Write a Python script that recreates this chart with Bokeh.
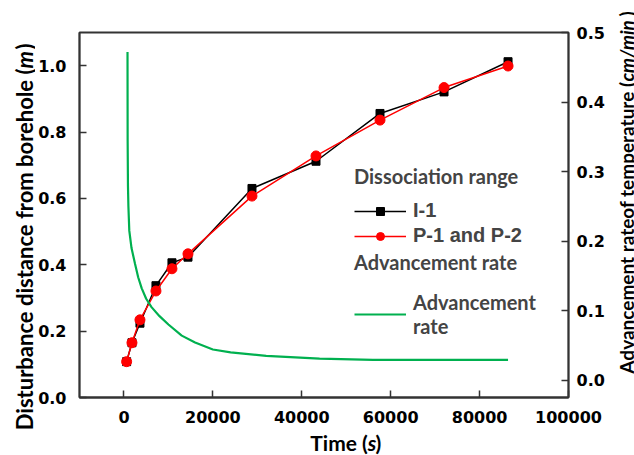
from math import pi

from bokeh.core.properties import value
from bokeh.embed import file_html
from bokeh.layouts import column, row
from bokeh.models import (FixedTicker, Legend, LegendItem, LinearAxis,
                          PrintfTickFormatter, Range1d)
from bokeh.plotting import figure
from bokeh.resources import INLINE

# Dissociation range measured at each sampling time (s -> m)
time_s = [600, 1800, 3600, 7200, 10800, 14400, 28800, 43200, 57600, 72000, 86400]
dist_i1 = [0.108, 0.165, 0.224, 0.337, 0.406, 0.423, 0.630, 0.712, 0.856, 0.921, 1.012]
dist_p12 = [0.108, 0.165, 0.234, 0.321, 0.388, 0.433, 0.607, 0.728, 0.836, 0.934, 0.999]

# Advancement rate of the temperature front (cm/min)
rate_time = [800, 830, 900, 1000, 1200, 1700, 2500, 3200, 4000, 5000, 6200, 8000,
             10000, 13000, 16000, 20000, 24000, 32000, 44000, 56000, 70000, 86400]
rate_value = [0.472, 0.345, 0.280, 0.250, 0.215, 0.190, 0.167, 0.148, 0.132, 0.117,
              0.105, 0.092, 0.080, 0.064, 0.054, 0.044, 0.040, 0.035, 0.031, 0.029,
              0.029, 0.029]

x_ticks = [0, 20000, 40000, 60000, 80000, 100000]
left_ticks = [0.0, 0.2, 0.4, 0.6, 0.8, 1.0]
right_ticks = [0.0, 0.1, 0.2, 0.3, 0.4, 0.5]

# Axis titles: (upright part, italic unit, closing bracket)
x_title = ("Time (", "s", ")")
left_title = ("Disturbance distance from borehole (", "m", ")")
right_title = ("Advancement rateof temperature (", "cm/min", ")")

AXIS_COLOR = "#333333"
TICK_FONT = "DejaVu Sans"
TITLE_FONT = "Lato"

# Page pieces: left title strip | (chart over bottom title strip) | right title strip
LEFT_W, RIGHT_W, BOTTOM_H = 35, 24, 26
TOTAL_W, TOTAL_H = 634, 455
MAIN_W = TOTAL_W - LEFT_W - RIGHT_W
MAIN_H = TOTAL_H - BOTTOM_H

p = figure(width=MAIN_W, height=MAIN_H, output_backend="svg", toolbar_location=None,
           x_range=Range1d(-10000, 100000), y_range=Range1d(0, 1.1),
           min_border_left=42, min_border_right=42, min_border_top=32,
           min_border_bottom=32)
p.extra_y_ranges = {"rate": Range1d(-0.025, 0.5)}
p.grid.visible = False
p.outline_line_color = AXIS_COLOR
p.outline_line_width = 1.8
p.background_fill_color = "white"
p.border_fill_color = "white"

left_axis = p.yaxis[0]
bottom_axis = p.xaxis[0]
right_axis = LinearAxis(y_range_name="rate")
p.add_layout(right_axis, "right")

left_axis.ticker = FixedTicker(ticks=left_ticks)
left_axis.formatter = PrintfTickFormatter(format="%.1f")
right_axis.ticker = FixedTicker(ticks=right_ticks)
right_axis.formatter = PrintfTickFormatter(format="%.1f")
bottom_axis.ticker = FixedTicker(ticks=x_ticks)
bottom_axis.formatter = PrintfTickFormatter(format="%d")

for ax, standoff in ((left_axis, 13), (right_axis, 8), (bottom_axis, 13)):
    ax.axis_line_color = AXIS_COLOR
    ax.axis_line_width = 1.8
    ax.major_tick_line_color = AXIS_COLOR
    ax.major_tick_line_width = 1.5
    ax.major_tick_in = 7
    ax.major_tick_out = 0
    ax.minor_tick_line_color = None
    ax.major_label_text_font = TICK_FONT
    ax.major_label_text_font_style = "bold"
    ax.major_label_text_font_size = "16px"
    ax.major_label_text_color = "black"
    ax.major_label_standoff = standoff
    ax.axis_label = None

# Series
bl = p.line(time_s, dist_i1, line_color="black", line_width=1.5)
bs = p.scatter(time_s, dist_i1, marker="square", size=8,
               fill_color="black", line_color="black")
rl = p.line(time_s, dist_p12, line_color="#ff0000", line_width=1.5)
rs = p.scatter(time_s, dist_p12, marker="circle", size=10,
               fill_color="#ff0000", line_color="#ff0000")
gl = p.line(rate_time, rate_value, line_color="#00b04f", line_width=2.2,
            y_range_name="rate")

# Legends
common = dict(glyph_width=52, glyph_height=20, label_standoff=7, spacing=2,
              padding=0, margin=0, border_line_alpha=0, background_fill_alpha=0,
              title_text_font=TITLE_FONT, title_text_font_style="bold",
              title_text_font_size="20px")

leg1 = Legend(items=[LegendItem(label="I-1", renderers=[bl, bs]),
                     LegendItem(label="P-1 and P-2", renderers=[rl, rs])],
              title="Dissociation range", location=(275, 150), title_standoff=11,
              label_text_font="Liberation Sans", label_text_font_style="bold",
              label_text_font_size="20px", **common)
leg2 = Legend(items=[LegendItem(label="Advancement\nrate", renderers=[gl])],
              title="Advancement rate", location=(275, 59), title_standoff=16,
              label_text_font=TITLE_FONT, label_text_font_style="bold",
              label_text_font_size="20px", **common)
p.add_layout(leg1)
p.add_layout(leg2)


def text_strip(width, height, x0, y0):
    """Blank panel whose data units are page pixels (y grows downwards)."""
    f = figure(width=width, height=height, output_backend="svg",
               toolbar_location=None, min_border=0,
               x_range=Range1d(x0, x0 + width), y_range=Range1d(y0 + height, y0),
               x_axis_location=None, y_axis_location=None)
    f.grid.visible = False
    f.outline_line_color = None
    f.background_fill_color = "white"
    f.border_fill_color = "white"
    return f


def draw_title(f, parts, x, y, join, unit_w, vertical, size):
    """Upright text ending at `join`, italic unit after it, then ')'."""
    upright, unit, close = parts
    angle = pi / 2 if vertical else 0.0
    if vertical:
        pos = [(x, join), (x, join), (x, join - unit_w)]
    else:
        pos = [(join, y), (join, y), (join + unit_w, y)]
    styles = ["bold", "bold italic", "bold"]
    aligns = ["right", "left", "left"]
    for (px, py), txt, style, align in zip(pos, (upright, unit, close), styles, aligns):
        f.text(x=[px], y=[py], text=[txt], angle=angle,
               text_font=value(TITLE_FONT), text_font_style=style,
               text_font_size=value(size), text_color="black",
               text_align=align, text_baseline="middle")


left_strip = text_strip(LEFT_W, TOTAL_H, 0, 0)
draw_title(left_strip, left_title, x=24, y=None, join=68, unit_w=19,
           vertical=True, size="22px")

right_strip = text_strip(RIGHT_W, TOTAL_H, LEFT_W + MAIN_W, 0)
draw_title(right_strip, right_title, x=626, y=None, join=81, unit_w=65,
           vertical=True, size="19px")

bottom_strip = text_strip(MAIN_W, BOTTOM_H, LEFT_W, MAIN_H)
draw_title(bottom_strip, x_title, x=None, y=442, join=374, unit_w=9,
           vertical=False, size="21px")

page = row(left_strip, column(p, bottom_strip, spacing=0), right_strip, spacing=0)

open("out.html", "w").write(file_html(page, INLINE))
